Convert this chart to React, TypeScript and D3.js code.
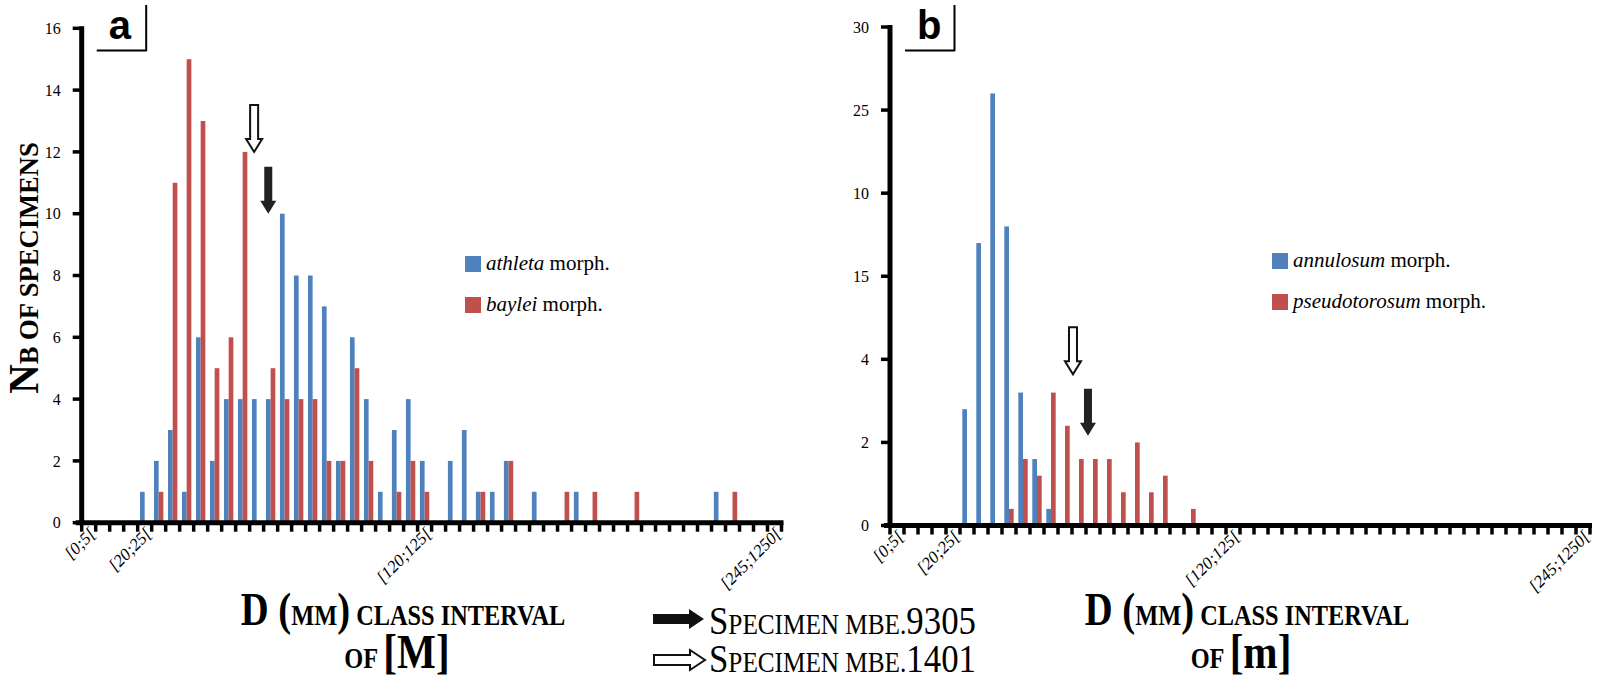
import React from "react";
import * as d3 from "d3";

// 5 mm classes, [0;5[ ... [245;250[
const classes = d3.range(50);
const tickIndex = [0, 4, 24, 49];
const tickText = ["[0;5[", "[20;25[", "[120;125[", "[245;1250["];

// panel a : [M]
const athleta = [0, 0, 0, 0, 1, 2, 3, 1, 6, 2, 4, 4, 4, 4, 10, 8, 8, 7, 2, 6, 4, 1, 3, 4, 2, 0, 2, 3, 1, 1, 2, 0, 1, 0, 0, 1, 0, 0, 0, 0, 0, 0, 0, 0, 0, 1, 0, 0, 0, 0];
const baylei = [0, 0, 0, 0, 0, 1, 11, 15, 13, 5, 6, 12, 0, 5, 4, 4, 4, 2, 2, 5, 2, 0, 1, 2, 1, 0, 0, 0, 1, 0, 2, 0, 0, 0, 1, 0, 1, 0, 0, 1, 0, 0, 0, 0, 0, 0, 1, 0, 0, 0];
const yTicksA = [0, 2, 4, 6, 8, 10, 12, 14, 16];
const yTickTextA = ["0", "2", "4", "6", "8", "10", "12", "14", "16"];

// panel b : [m] (tick labels as printed on the figure)
const annulosum = [0, 0, 0, 0, 0, 7, 17, 26, 18, 8, 4, 1, 0, 0, 0, 0, 0, 0, 0, 0, 0, 0, 0, 0, 0, 0, 0, 0, 0, 0, 0, 0, 0, 0, 0, 0, 0, 0, 0, 0, 0, 0, 0, 0, 0, 0, 0, 0, 0, 0];
const pseudotorosum = [0, 0, 0, 0, 0, 0, 0, 0, 1, 4, 3, 8, 6, 4, 4, 4, 2, 5, 2, 3, 0, 1, 0, 0, 0, 0, 0, 0, 0, 0, 0, 0, 0, 0, 0, 0, 0, 0, 0, 0, 0, 0, 0, 0, 0, 0, 0, 0, 0, 0];
const yTicksB = [0, 5, 10, 15, 20, 25, 30];
const yTickTextB = ["0", "2", "4", "15", "10", "25", "30"];

// specimen arrows: class position + value at the tip
const arrowsA = [{ pos: 12.32, tip: 12, hollow: true }, { pos: 13.33, tip: 10, hollow: false }];
const arrowsB = [{ pos: 13.07, tip: 9.1, hollow: true }, { pos: 14.14, tip: 5.4, hollow: false }];

const BLUE = "#4F81BD";
const RED = "#C0504D";
const SERIF = "'Liberation Serif', 'Times New Roman', serif";
const SANS = "'Liberation Sans', Arial, sans-serif";

function downArrow(cx, ty) {
  return `M${cx - 4},${ty - 47}L${cx + 4},${ty - 47}L${cx + 4},${ty - 13}L${cx + 8},${ty - 13}L${cx},${ty}L${cx - 8},${ty - 13}L${cx - 4},${ty - 13}Z`;
}

function rightArrow(x, cy) {
  return `M${x},${cy - 5}L${x + 36},${cy - 5}L${x + 36},${cy - 10}L${x + 51},${cy}L${x + 36},${cy + 10}L${x + 36},${cy + 5}L${x},${cy + 5}Z`;
}

function Panel({ x0, x1, y0, y1, yMax, yTicks, yTickText, blue, red, names, arrows, letter, legendX, legendY }) {
  const x = d3.scaleBand().domain(classes).range([x0, x1]).paddingInner(0.33).paddingOuter(0.165);
  const pair = d3.scaleBand().domain(["blue", "red"]).range([0, x.bandwidth()]);
  const y = d3.scaleLinear().domain([0, yMax]).range([y0, y1]);
  const pos = d3.scaleLinear().domain([0, classes.length]).range([x0, x1]);
  const step = x.step();

  return (
    <g>
      {/* bars */}
      {classes.map((i) => (
        <g key={i}>
          {blue[i] > 0 && (
            <rect x={x(i) + pair("blue")} y={y(blue[i])} width={pair.bandwidth()} height={y0 - y(blue[i])} fill={BLUE} />
          )}
          {red[i] > 0 && (
            <rect x={x(i) + pair("red")} y={y(red[i])} width={pair.bandwidth()} height={y0 - y(red[i])} fill={RED} />
          )}
        </g>
      ))}

      {/* y axis */}
      <line x1={x0} x2={x0} y1={y1 - 2} y2={y0} stroke="#000" strokeWidth={5} />
      {yTicks.map((t, i) => (
        <g key={t}>
          <rect x={x0 - 9} y={y(t) - 1.75} width={9} height={3.5} fill="#000" />
          <text x={x0 - 21} y={y(t)} dy="0.35em" textAnchor="end" fontFamily={SERIF} fontSize={16}>
            {yTickText[i]}
          </text>
        </g>
      ))}

      {/* x axis */}
      <line x1={x0 - 6} x2={x1 + 2} y1={y0} y2={y0} stroke="#000" strokeWidth={5} />
      {d3.range(classes.length + 1).map((i) => (
        <rect key={i} x={x0 + i * step - 1.75} y={y0} width={3.5} height={9} fill="#000" />
      ))}
      {tickIndex.map((idx, i) => {
        const cx = x(idx) + x.bandwidth() / 2 + 8;
        return (
          <text key={idx} transform={`translate(${cx},${y0 + 12}) rotate(-45)`} textAnchor="end" fontFamily={SERIF} fontStyle="italic" fontSize={17}>
            {tickText[i]}
          </text>
        );
      })}

      {/* specimen arrows */}
      {arrows.map((a, i) => (
        <path key={i} d={downArrow(pos(a.pos), y(a.tip))} fill={a.hollow ? "#fff" : "#222"} stroke={a.hollow ? "#111" : "none"} strokeWidth={2} />
      ))}

      {/* panel letter */}
      <text x={x0 + 27} y={39} fontFamily={SANS} fontWeight="bold" fontSize={40}>{letter}</text>
      <line x1={x0 + 15} x2={x0 + 65} y1={50.5} y2={50.5} stroke="#000" strokeWidth={2} />
      <line x1={x0 + 64.5} x2={x0 + 64.5} y1={5} y2={51} stroke="#000" strokeWidth={2} />

      {/* legend */}
      {[BLUE, RED].map((c, i) => (
        <g key={c}>
          <rect x={legendX} y={legendY + i * 41} width={16} height={16} fill={c} />
          <text x={legendX + 21} y={legendY + 14 + i * 41} fontFamily={SERIF} fontSize={21}>
            <tspan fontStyle="italic">{names[i]}</tspan>
            <tspan>{" morph."}</tspan>
          </text>
        </g>
      ))}
    </g>
  );
}

function AxisTitle({ cx, letter }) {
  return (
    <g fontFamily={SERIF} fontWeight="bold">
      <text transform={`translate(${cx},625) scale(0.84,1)`} textAnchor="middle">
        <tspan fontSize={46}>D (</tspan>
        <tspan fontSize={29}>MM</tspan>
        <tspan fontSize={46}>)</tspan>
        <tspan fontSize={29}>{" CLASS INTERVAL"}</tspan>
      </text>
      <text transform={`translate(${cx - 6},668) scale(0.84,1)`} textAnchor="middle">
        <tspan fontSize={29}>{"OF "}</tspan>
        <tspan fontSize={49}>[{letter}]</tspan>
      </text>
    </g>
  );
}

export default function App() {
  return (
    <svg width={1600} height={680} style={{ position: "absolute", left: 0, top: 0, background: "#fff" }}>
      <rect width={1600} height={680} fill="#fff" />

      <Panel
        x0={81.7} x1={781.5} y0={522.7} y1={28.3} yMax={16}
        yTicks={yTicksA} yTickText={yTickTextA}
        blue={athleta} red={baylei} names={["athleta", "baylei"]}
        arrows={arrowsA} letter="a" legendX={465} legendY={256}
      />
      <Panel
        x0={890} x1={1590} y0={525.5} y1={27} yMax={30}
        yTicks={yTicksB} yTickText={yTickTextB}
        blue={annulosum} red={pseudotorosum} names={["annulosum", "pseudotorosum"]}
        arrows={arrowsB} letter="b" legendX={1272} legendY={253}
      />

      {/* y title */}
      <text transform="translate(38,268) rotate(-90) scale(0.95,1)" textAnchor="middle" fontFamily={SERIF} fontWeight="bold">
        <tspan fontSize={43}>N</tspan>
        <tspan fontSize={28}>B OF SPECIMENS</tspan>
      </text>

      <AxisTitle cx={403} letter="M" />
      <AxisTitle cx={1247} letter="m" />

      {/* specimen key */}
      <path d={rightArrow(653, 619)} fill="#111" />
      <text transform="translate(709,634) scale(0.87,1)" fontFamily={SERIF}>
        <tspan fontSize={40}>S</tspan>
        <tspan fontSize={29}>PECIMEN MBE.</tspan>
        <tspan fontSize={40}>9305</tspan>
      </text>
      <path d={rightArrow(654, 660)} fill="#fff" stroke="#111" strokeWidth={2} />
      <text transform="translate(709,672) scale(0.87,1)" fontFamily={SERIF}>
        <tspan fontSize={40}>S</tspan>
        <tspan fontSize={29}>PECIMEN MBE.</tspan>
        <tspan fontSize={40}>1401</tspan>
      </text>
    </svg>
  );
}
